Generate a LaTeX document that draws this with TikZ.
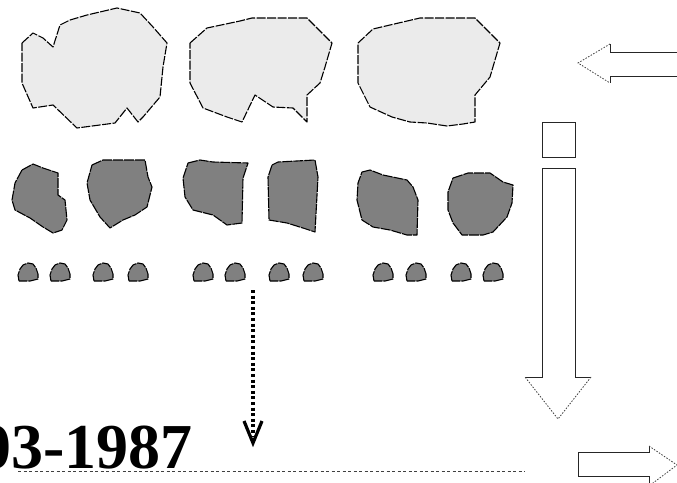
\documentclass[tikz,border=0pt]{standalone}
\usepackage{fontspec}
\setmainfont{Liberation Serif}
\begin{document}
\begin{tikzpicture}[x=1pt,y=-1pt,
  lightblob/.style={fill=lightgrey,draw=black,line width=1.1pt,dash pattern=on 9pt off 1.5pt,line join=round},
  darkblob/.style={fill=midgrey,draw=black,line width=1.1pt,dash pattern=on 10pt off 1pt,line join=round},
  solidedge/.style={draw=black!85,line width=0.9pt},
  dottededge/.style={draw=black!75,line width=0.8pt,dash pattern=on 1.5pt off 1.5pt},
  pebble/.pic={\path[darkblob] (1,18) -- (0,12) -- (2,6) -- (5,2) -- (10,0) -- (15,1) -- (18,5) -- (20,11) -- (20,16) -- (12,18) -- cycle;}]
\definecolor{lightgrey}{RGB}{235,235,235}
\definecolor{midgrey}{RGB}{128,128,128}
\useasboundingbox (0,0) rectangle (677,482);

% upper row of large pale shapes
\path[lightblob] (22,43) -- (33,33) -- (43,38) -- (53,47) -- (60,25) -- (70,20) -- (87,15) -- (117,8) -- (140,13) -- (153,27) -- (167,43) -- (163,67) -- (160,97) -- (143,117) -- (138,122) -- (127,108) -- (115,123) -- (77,128) -- (53,105) -- (33,108) -- (22,83) -- cycle;
\path[lightblob] (190,43) -- (207,28) -- (240,21) -- (252,18) -- (307,18) -- (332,43) -- (325,67) -- (320,83) -- (307,95) -- (307,122) -- (293,108) -- (273,107) -- (255,95) -- (242,122) -- (227,117) -- (203,108) -- (190,83) -- cycle;
\path[lightblob] (358,43) -- (373,29) -- (390,25) -- (420,18) -- (475,18) -- (500,43) -- (495,60) -- (490,77) -- (475,95) -- (475,122) -- (463,124) -- (447,126) -- (427,123) -- (410,122) -- (392,117) -- (370,107) -- (358,83) -- cycle;

% middle row of dark shapes
\path[darkblob] (22,170) -- (33,164) -- (43,168) -- (58,173) -- (58,195) -- (65,200) -- (67,220) -- (62,230) -- (53,233) -- (43,227) -- (30,218) -- (15,210) -- (12,200) -- (15,183) -- cycle;
\path[darkblob] (92,165) -- (103,160) -- (145,160) -- (148,177) -- (152,187) -- (147,207) -- (135,215) -- (123,220) -- (110,228) -- (100,217) -- (90,200) -- (87,183) -- cycle;
\path[darkblob] (188,163) -- (200,160) -- (213,162) -- (248,163) -- (243,178) -- (242,223) -- (227,225) -- (213,215) -- (193,210) -- (185,197) -- (183,178) -- cycle;
\path[darkblob] (272,165) -- (278,162) -- (315,160) -- (318,177) -- (315,232) -- (303,228) -- (287,223) -- (269,220) -- (268,177) -- cycle;
\path[darkblob] (362,172) -- (370,170) -- (383,175) -- (407,180) -- (413,187) -- (418,200) -- (417,235) -- (407,235) -- (390,230) -- (373,227) -- (362,220) -- (357,200) -- (358,183) -- cycle;
\path[darkblob] (453,178) -- (468,173) -- (490,173) -- (503,182) -- (513,185) -- (512,203) -- (507,217) -- (493,232) -- (483,235) -- (462,235) -- (453,223) -- (448,210) -- (448,192) -- cycle;

% bottom row of small pebbles
\foreach \px in {18,50,93,128,193,225,269,303,373,406,451,483}
  \pic at (\px,263) {pebble};

% dotted pointer with open head
\coordinate (ptrtop) at (253,290);
\coordinate (ptrtip) at (253,443);
\draw[line width=3.4pt,dash pattern=on 3pt off 2.6pt] (ptrtop) -- ([yshift=6pt]ptrtip);
\draw[line width=3.2pt,line join=miter] ([xshift=-9pt,yshift=22pt]ptrtip) -- (ptrtip) -- ([xshift=9pt,yshift=22pt]ptrtip);

% date and baseline
\draw[black!75,line width=0.8pt,dash pattern=on 3pt off 2.5pt] (18,471) -- (525,471);
\node[anchor=base east,inner sep=0pt,font=\fontsize{64}{64}\selectfont\bfseries] (date) at (193,468) {03-1987};

% left-pointing block arrow
\draw[solidedge] (680,52) -- (610,52) -- (610,44);
\draw[solidedge] (680,76) -- (610,76) -- (610,83);
\draw[dottededge] (610,44) -- (578,63) -- (610,83);

% small box above the long arrow
\draw[solidedge] (542,122) rectangle (575,157);

% long downward block arrow
\draw[solidedge] (525,377) -- (542,377) -- (542,168) -- (575,168) -- (575,377) -- (591,377);
\draw[dottededge] (591,377) -- (558,419) -- (525,377);

% right-pointing block arrow
\draw[solidedge] (649,446) -- (649,452) -- (578,452) -- (578,476) -- (649,476) -- (649,486);
\draw[dottededge] (649,446) -- (677,465) -- (649,486);
\end{tikzpicture}
\end{document}
